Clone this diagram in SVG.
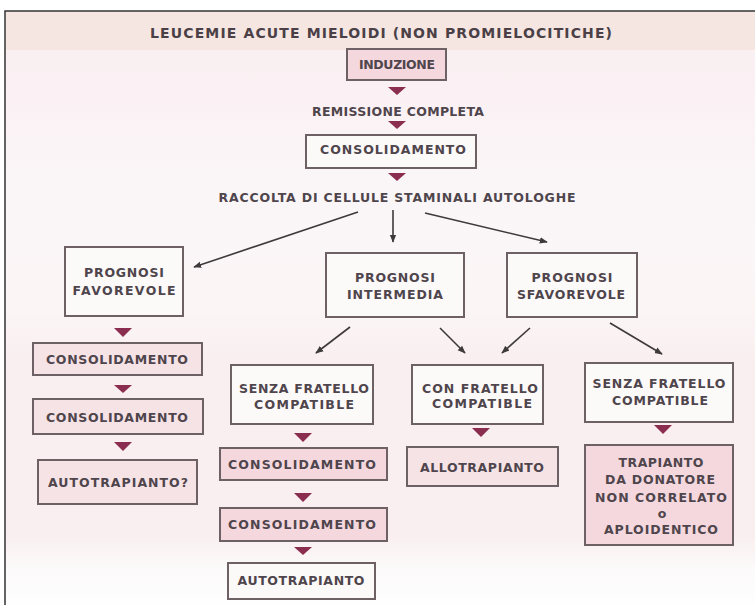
<svg xmlns="http://www.w3.org/2000/svg" width="755" height="605" viewBox="0 0 755 605">
<defs>
<linearGradient id="bg" x1="0" y1="0" x2="0" y2="1">
<stop offset="0" stop-color="#f8eff1"/>
<stop offset="0.15" stop-color="#fbf1f4"/>
<stop offset="0.3" stop-color="#faf6f7"/>
<stop offset="0.5" stop-color="#fbf5f6"/>
<stop offset="0.6" stop-color="#f9eef0"/>
<stop offset="0.88" stop-color="#f9eef0"/>
<stop offset="0.94" stop-color="#fcfafa"/>
<stop offset="1" stop-color="#fefefe"/>
</linearGradient>
<marker id="ah" viewBox="0 0 10 10" refX="9" refY="5" markerWidth="5" markerHeight="5" orient="auto">
<path d="M0,1 L10,5 L0,9 z" fill="#3e3a3c"/>
</marker>
<style>
.box{stroke:#6d6165;stroke-width:2}
.w{fill:#fcf9f9}
.p{fill:#f6e3e6}
.pk{fill:#f4d8dd}
.t{font-family:"DejaVu Sans","Liberation Sans",Arial,sans-serif;font-weight:bold;font-size:12.5px;fill:#4f454c;text-anchor:middle}
.title{font-size:14px;fill:#4a4046}
.ln{stroke:#3e3a3c;stroke-width:1.6;fill:none;marker-end:url(#ah)}
.tri{fill:#8a2d4f}
</style>
</defs>
<rect x="0" y="0" width="755" height="605" fill="#ffffff"/>
<rect x="5" y="11" width="750" height="594" fill="url(#bg)"/>
<rect x="6" y="12" width="749" height="38" fill="#f5e6e2"/>
<path d="M5,605 V11 H755" fill="none" stroke="#333" stroke-width="1.5"/>
<text class="t title" x="381" y="38" textLength="462">LEUCEMIE ACUTE MIELOIDI (NON PROMIELOCITICHE)</text>

<g id="induzione"><rect class="box pk" x="347" y="49" width="99" height="31"/><text class="t" x="397" y="69" textLength="76">INDUZIONE</text></g>
<g id="remissione"><text class="t" x="398" y="116" textLength="172">REMISSIONE COMPLETA</text></g>
<g id="consolidamento0"><rect class="box w" x="306" y="135" width="170" height="33"/><text class="t" x="393" y="154" textLength="146">CONSOLIDAMENTO</text></g>
<g id="raccolta"><text class="t" x="397" y="202" textLength="357">RACCOLTA DI CELLULE STAMINALI AUTOLOGHE</text></g>

<g id="favorevole"><rect class="box w" x="65" y="247" width="118" height="69"/><text class="t" x="124" y="277" textLength="80">PROGNOSI</text><text class="t" x="124" y="295" textLength="103">FAVOREVOLE</text></g>
<g id="intermedia"><rect class="box w" x="326" y="253" width="138" height="64"/><text class="t" x="395" y="282" textLength="80">PROGNOSI</text><text class="t" x="395" y="299" textLength="96">INTERMEDIA</text></g>
<g id="sfavorevole"><rect class="box w" x="507" y="253" width="130" height="64"/><text class="t" x="572" y="282" textLength="81">PROGNOSI</text><text class="t" x="571" y="299" textLength="108">SFAVOREVOLE</text></g>

<g id="consL1"><rect class="box p" x="33" y="343" width="169" height="32"/><text class="t" x="117" y="364" textLength="142">CONSOLIDAMENTO</text></g>
<g id="consL2"><rect class="box p" x="33" y="399" width="170" height="35"/><text class="t" x="117" y="422" textLength="142">CONSOLIDAMENTO</text></g>
<g id="autoL"><rect class="box p" x="38" y="460" width="159" height="44"/><text class="t" x="118" y="487" textLength="140">AUTOTRAPIANTO?</text></g>

<g id="senzaM"><rect class="box w" x="231" y="365" width="142" height="59"/><text class="t" x="304" y="393" textLength="130">SENZA FRATELLO</text><text class="t" x="304" y="409" textLength="100">COMPATIBLE</text></g>
<g id="consM1"><rect class="box pk" x="220" y="448" width="167" height="32"/><text class="t" x="302" y="469" textLength="148">CONSOLIDAMENTO</text></g>
<g id="consM2"><rect class="box pk" x="220" y="508" width="167" height="33"/><text class="t" x="302" y="529" textLength="148">CONSOLIDAMENTO</text></g>
<g id="autoM"><rect class="box w" x="228" y="563" width="147" height="36"/><text class="t" x="301" y="585" textLength="127">AUTOTRAPIANTO</text></g>

<g id="conF"><rect class="box w" x="412" y="365" width="131" height="59"/><text class="t" x="480" y="393" textLength="116">CON FRATELLO</text><text class="t" x="482" y="408" textLength="100">COMPATIBLE</text></g>
<g id="allo"><rect class="box p" x="407" y="447" width="151" height="39"/><text class="t" x="482" y="472" textLength="124">ALLOTRAPIANTO</text></g>

<g id="senzaR"><rect class="box w" x="585" y="363" width="148" height="59"/><text class="t" x="659" y="388" textLength="133">SENZA FRATELLO</text><text class="t" x="660" y="405" textLength="96">COMPATIBLE</text></g>
<g id="trapianto"><rect class="box pk" x="585" y="445" width="148" height="100"/>
<text class="t" x="661" y="467" textLength="85">TRAPIANTO</text>
<text class="t" x="660" y="484" textLength="110">DA DONATORE</text>
<text class="t" x="661" y="502" textLength="132">NON CORRELATO</text>
<text class="t" x="662" y="518">o</text>
<text class="t" x="661" y="534" textLength="114">APLOIDENTICO</text></g>

<g id="connectors">
<polygon class="tri" points="388,87 406,87 397,95"/>
<polygon class="tri" points="388,121 406,121 397,129"/>
<polygon class="tri" points="388,173 406,173 397,181"/>
<line class="ln" x1="358" y1="212" x2="194" y2="267"/>
<line class="ln" x1="393" y1="210" x2="393" y2="242"/>
<line class="ln" x1="425" y1="213" x2="547" y2="242"/>
<line class="ln" x1="350" y1="327" x2="316" y2="353"/>
<line class="ln" x1="440" y1="328" x2="465" y2="353"/>
<line class="ln" x1="530" y1="328" x2="502" y2="353"/>
<line class="ln" x1="610" y1="323" x2="662" y2="354"/>
<polygon class="tri" points="114,328 132,328 123,337"/>
<polygon class="tri" points="114,385 132,385 123,393"/>
<polygon class="tri" points="114,442 132,442 123,451"/>
<polygon class="tri" points="294,433 312,433 303,442"/>
<polygon class="tri" points="294,493 312,493 303,502"/>
<polygon class="tri" points="294,547 312,547 303,555"/>
<polygon class="tri" points="472,428 490,428 481,437"/>
<polygon class="tri" points="654,425 672,425 663,434"/>
</g>
</svg>
